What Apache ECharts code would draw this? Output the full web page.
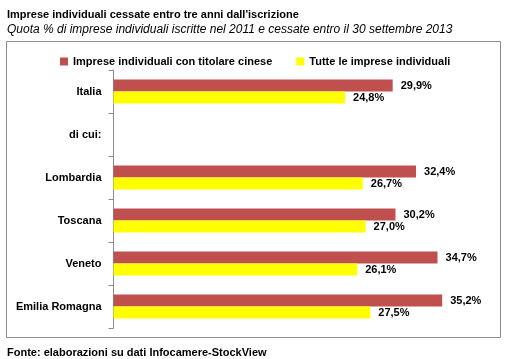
<!DOCTYPE html>
<html><head><meta charset="utf-8">
<script src="https://cdn.jsdelivr.net/npm/echarts@6/dist/echarts.min.js"></script>
<style>html,body{margin:0;padding:0;background:#fff}#c{width:513px;height:359px}</style>
</head><body><div id="c"></div>
<script>
const categories = ['Italia', 'di cui:', 'Lombardia', 'Toscana', 'Veneto', 'Emilia Romagna'];
const cinesi = [29.9, null, 32.4, 30.2, 34.7, 35.2];
const tutte = [24.8, null, 26.7, 27.0, 26.1, 27.5];
const seriesNames = ['Imprese individuali con titolare cinese', 'Tutte le imprese individuali'];

const F = 'Liberation Sans';
const fmt = p => p.value == null ? '' : p.value.toFixed(1).replace('.', ',') + '%';
const chart = echarts.init(document.getElementById('c'));
chart.setOption({
  animation: false,
  title: [
    {text: "Imprese individuali cessate entro tre anni dall'iscrizione", left: 2, top: 4,
     textStyle: {fontFamily: F, fontSize: 11, fontWeight: 'bold', color: '#000'}},
    {text: 'Quota % di imprese individuali iscritte nel 2011 e cessate entro il 30 settembre 2013', left: 2, top: 19,
     textStyle: {fontFamily: F, fontSize: 12, fontStyle: 'italic', fontWeight: 'normal', color: '#000'}},
    {text: 'Fonte: elaborazioni su dati Infocamere-StockView', left: 2, top: 342,
     textStyle: {fontFamily: F, fontSize: 11, fontWeight: 'bold', color: '#000'}}
  ],
  graphic: [{type: 'rect', shape: {x: 6.5, y: 41.5, width: 494, height: 296},
    style: {fill: 'none', stroke: '#8c8c8c', lineWidth: 1}}],
  legend: {top: 51, left: 55, itemWidth: 8, itemHeight: 8, itemGap: 24, icon: 'rect',
    textStyle: {fontFamily: F, fontSize: 11, fontWeight: 'bold', color: '#000'},
    data: seriesNames},
  grid: {left: 113.5, right: 26, top: 70, bottom: 31, containLabel: false},
  xAxis: {type: 'value', min: 0, max: 40, show: false},
  yAxis: {type: 'category', data: categories, inverse: true,
    axisLine: {show: true, lineStyle: {color: '#8c8c8c'}},
    axisTick: {show: true, length: 5, lineStyle: {color: '#8c8c8c'}},
    axisLabel: {margin: 12, fontFamily: F, fontSize: 11, fontWeight: 'bold', color: '#000'}},
  series: [
    {name: seriesNames[0], type: 'bar', data: cinesi, barWidth: 12, barGap: '0%',
     itemStyle: {color: '#C0504D'},
     label: {show: true, position: 'right', distance: 8, formatter: fmt,
       fontFamily: F, fontSize: 11, fontWeight: 'bold', color: '#000'}},
    {name: seriesNames[1], type: 'bar', data: tutte, barWidth: 12, barGap: '0%',
     itemStyle: {color: '#FFFF00'},
     label: {show: true, position: 'right', distance: 8, formatter: fmt,
       fontFamily: F, fontSize: 11, fontWeight: 'bold', color: '#000'}}
  ]
});
</script></body></html>
